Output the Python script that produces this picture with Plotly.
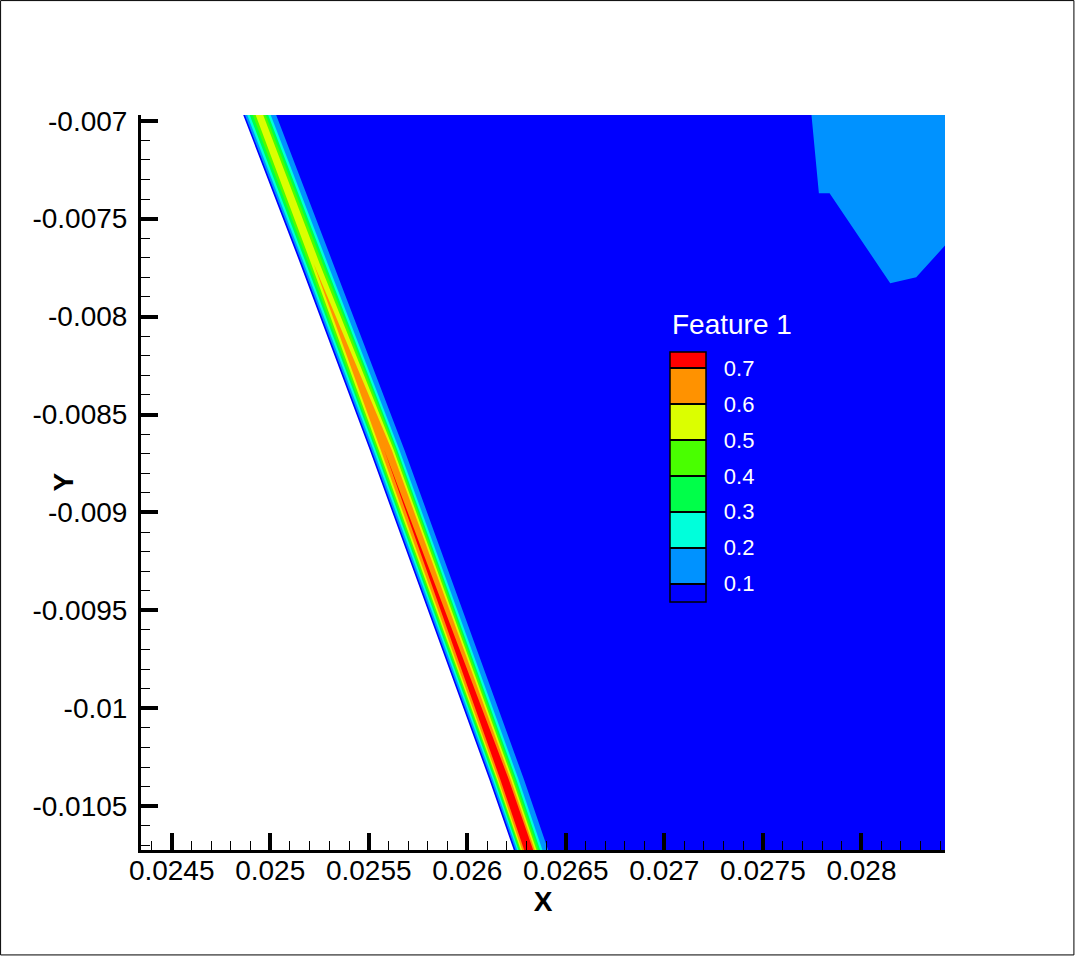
import plotly.graph_objects as go

# stations along the wall, top to bottom (m)
station_y = [-0.0069607, -0.0077260, -0.0086801, -0.0103637, -0.0107311]
wall_x = [0.0248590, 0.0251506, 0.0255046, 0.0261116, 0.0262383]

levels = [0.1, 0.2, 0.3, 0.4, 0.5, 0.6, 0.7]
level_colors = ["rgb(0,0,255)", "rgb(0,146,255)", "rgb(0,255,219)", "rgb(0,255,73)",
                "rgb(73,255,0)", "rgb(219,255,0)", "rgb(255,146,0)", "rgb(255,0,0)"]

# iso-line distance from the wall (um) at each station, left / right of the ridge
iso_left = {
    0.1: [8.6, 9.1, 8.6, 8.6, 8.6],
    0.2: [20.3, 19.3, 18.8, 17.7, 17.2],
    0.3: [33.0, 30.4, 28.9, 25.4, 23.8],
    0.4: [48.2, 43.1, 37.0, 33.0, 30.4],
    0.5: [63.4, 55.8, 45.6, 39.0, 35.5],
    0.6: [None, 68.5, 55.8, 45.6, 42.6],
    0.7: [None, None, 73.5, 55.8, 52.7],
}
iso_right = {
    0.1: [167.3, 167.3, 176.0, 176.0, 174.4],
    0.2: [139.5, 139.5, 150.6, 148.6, 145.5],
    0.3: [126.8, 126.8, 139.5, 136.9, 133.9],
    0.4: [114.1, 114.1, 131.8, 126.8, 123.7],
    0.5: [101.4, 98.9, 121.7, 118.2, 115.1],
    0.6: [None, 68.5, 111.6, 109.0, 106.5],
    0.7: [None, None, 73.5, 98.9, 98.4],
}

# 0.1-0.2 patch in the upper right corner
patch_x = [0.0277454, 0.0277840, 0.0278382, 0.0281460, 0.0282779, 0.0284316, 0.0284316]
patch_y = [-0.0069607, -0.0073704, -0.0073704, -0.0078296, -0.0077990, -0.0076291, -0.0069607]
domain_right = 0.0284316

x_tickvals = [0.0245, 0.025, 0.0255, 0.026, 0.0265, 0.027, 0.0275, 0.028]
x_ticktext = ["0.0245", "0.025", "0.0255", "0.026", "0.0265", "0.027", "0.0275", "0.028"]
y_tickvals = [-0.007, -0.0075, -0.008, -0.0085, -0.009, -0.0095, -0.01, -0.0105]
y_ticktext = ["-0.007", "-0.0075", "-0.008", "-0.0085", "-0.009", "-0.0095", "-0.01", "-0.0105"]

cb_min, cb_max = 0.0499, 0.7462

FONT = "Liberation Sans"

fig = go.Figure()

# flow domain, below the lowest level
fig.add_trace(go.Scatter(
    x=wall_x + [domain_right, domain_right],
    y=station_y + [station_y[-1], station_y[0]],
    fill="toself", fillcolor=level_colors[0], mode="lines", line=dict(width=0),
    hoverinfo="skip", showlegend=False))

fig.add_trace(go.Scatter(
    x=patch_x, y=patch_y, fill="toself", fillcolor=level_colors[1], mode="lines",
    line=dict(width=0), hoverinfo="skip", showlegend=False))

# nested level regions along the ridge
for i, lev in enumerate(levels):
    xs, ys = [], []
    for k in range(len(station_y)):
        if iso_left[lev][k] is not None:
            xs.append(wall_x[k] + iso_left[lev][k] * 1e-6)
            ys.append(station_y[k])
    for k in reversed(range(len(station_y))):
        if iso_right[lev][k] is not None:
            xs.append(wall_x[k] + iso_right[lev][k] * 1e-6)
            ys.append(station_y[k])
    fig.add_trace(go.Scatter(
        x=xs, y=ys, fill="toself", fillcolor=level_colors[i + 1], mode="lines",
        line=dict(width=0), hoverinfo="skip", showlegend=False))

# legend bar
edges = [cb_min] + levels + [cb_max]
scale = []
for i, c in enumerate(level_colors):
    scale.append([(edges[i] - cb_min) / (cb_max - cb_min), c])
    scale.append([(edges[i + 1] - cb_min) / (cb_max - cb_min), c])

fig.add_trace(go.Scatter(
    x=[None], y=[None], mode="markers", hoverinfo="skip", showlegend=False,
    marker=dict(
        color=[cb_min], cmin=cb_min, cmax=cb_max, colorscale=scale, showscale=True,
        colorbar=dict(
            x=0.6584, xanchor="left", xpad=0, y=0.6782, yanchor="top", ypad=0,
            len=250, lenmode="pixels", thickness=36, thicknessmode="pixels",
            outlinewidth=1.5, outlinecolor="black",
            tickmode="array", tickvals=levels,
            ticktext=["\u00a0\u00a0" + str(v) for v in levels],
            ticks="inside", ticklen=36, tickwidth=1.5, tickcolor="black",
            tickfont=dict(family=FONT, size=22, color="white"),
        ),
    ),
))

fig.add_annotation(text="Feature 1", xref="paper", yref="paper", x=0.6584, y=0.7145,
                   xanchor="left", yanchor="middle", showarrow=False,
                   font=dict(family=FONT, size=28, color="white"))

axis_common = dict(
    showline=True, linewidth=3, linecolor="black", mirror=False,
    showgrid=False, zeroline=False,
    ticks="inside", ticklen=17, tickwidth=3.5, tickcolor="black",
    tickfont=dict(family=FONT, size=28, color="black"),
    minor=dict(dtick=0.0001, tick0=0, ticks="inside", ticklen=9, tickwidth=1,
               tickcolor="black", showgrid=False),
    tickmode="array",
)

fig.update_xaxes(range=[0.0243443, 0.0284239], tickvals=x_tickvals, ticktext=x_ticktext,
                 ticklabelstandoff=-7,
                 title=dict(text="<b>X</b>", font=dict(family=FONT, size=28, color="black"),
                            standoff=6),
                 **axis_common)
fig.update_yaxes(range=[-0.0107234, -0.0069709], tickvals=y_tickvals, ticktext=y_ticktext,
                 ticklabelstandoff=5,
                 **axis_common)

fig.add_annotation(text="<b>Y</b>", xref="paper", yref="paper", x=-0.09695, y=0.5,
                   xanchor="center", yanchor="middle",
                   textangle=-90, showarrow=False,
                   font=dict(family=FONT, size=28, color="black"))

# frame around the whole picture
fig.add_shape(type="rect", xref="paper", yref="paper",
              x0=-0.17464, x1=1.16035, y0=-0.14276, y1=1.15566,
              line=dict(color="black", width=1))

fig.update_layout(
    width=1075, height=956,
    margin=dict(l=141, r=129.5, t=115, b=105.5, autoexpand=False),
    plot_bgcolor="white", paper_bgcolor="white",
    font=dict(family=FONT),
    showlegend=False,
)

fig.write_html("out.html", config={"displayModeBar": False},
               post_script="document.body.style.margin='0';")
